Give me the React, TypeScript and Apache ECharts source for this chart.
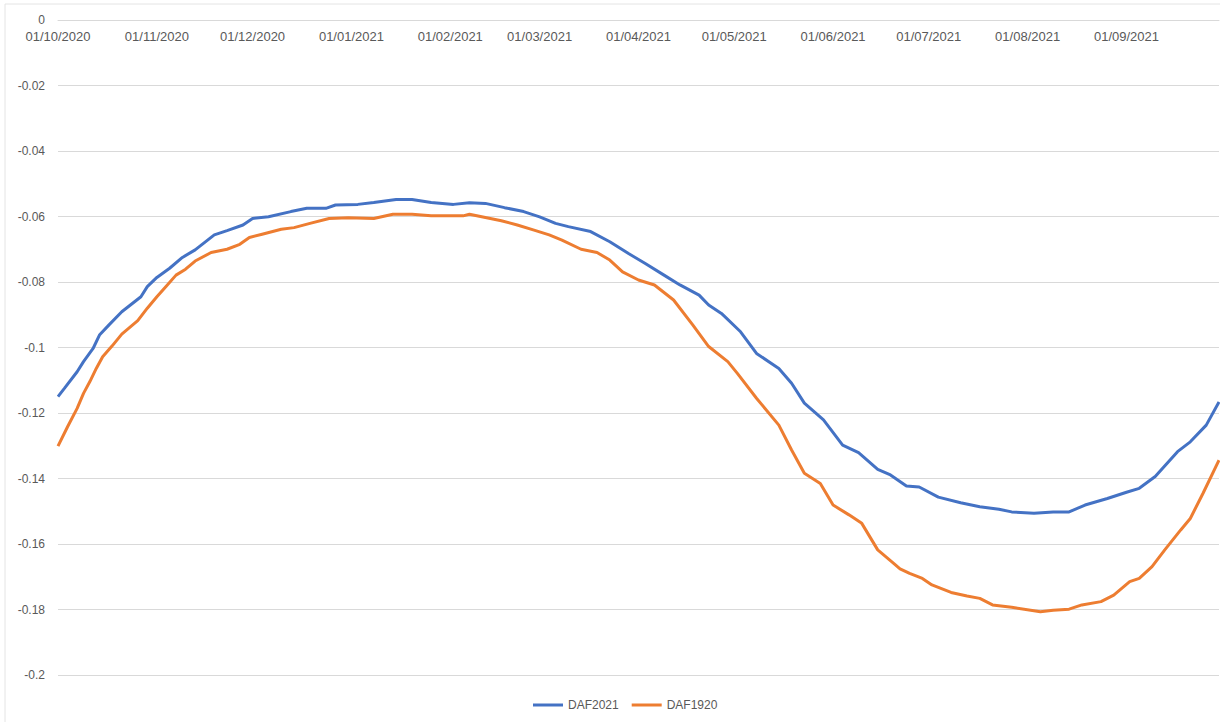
import React, { useEffect, useRef } from "react";
import * as echarts from "echarts";

const monthStarts = [
  "2020-10-01", "2020-11-01", "2020-12-01", "2021-01-01", "2021-02-01", "2021-03-01",
  "2021-04-01", "2021-05-01", "2021-06-01", "2021-07-01", "2021-08-01", "2021-09-01",
];

const daf2021Dates = [
  "2020-10-01", "2020-10-03", "2020-10-07", "2020-10-09", "2020-10-12", "2020-10-14", "2020-10-17", "2020-10-21", "2020-10-27", "2020-10-29",
  "2020-11-01", "2020-11-05", "2020-11-09", "2020-11-13", "2020-11-19", "2020-11-23", "2020-11-28", "2020-12-01", "2020-12-06", "2020-12-13",
  "2020-12-18", "2020-12-24", "2020-12-27", "2021-01-03", "2021-01-08", "2021-01-15", "2021-01-20", "2021-01-26", "2021-02-02", "2021-02-07",
  "2021-02-12", "2021-02-18", "2021-02-24", "2021-03-01", "2021-03-06", "2021-03-10", "2021-03-17", "2021-03-23", "2021-03-29", "2021-04-03",
  "2021-04-09", "2021-04-14", "2021-04-20", "2021-04-23", "2021-04-27", "2021-05-03", "2021-05-08", "2021-05-15", "2021-05-19", "2021-05-23",
  "2021-05-29", "2021-06-04", "2021-06-09", "2021-06-15", "2021-06-19", "2021-06-24", "2021-06-28", "2021-07-04", "2021-07-11", "2021-07-17",
  "2021-07-23", "2021-07-27", "2021-08-03", "2021-08-09", "2021-08-14", "2021-08-19", "2021-08-26", "2021-09-01", "2021-09-05", "2021-09-10",
  "2021-09-17", "2021-09-21", "2021-09-26", "2021-09-30",
];
const daf2021Values = [
  -0.1150, -0.1125, -0.1074, -0.1043, -0.1003, -0.0962, -0.0931, -0.0891, -0.0845, -0.0814,
  -0.0786, -0.0758, -0.0725, -0.0702, -0.0656, -0.0643, -0.0626, -0.0606, -0.0601, -0.0585,
  -0.0575, -0.0575, -0.0565, -0.0563, -0.0557, -0.0548, -0.0548, -0.0557, -0.0563, -0.0558,
  -0.0560, -0.0573, -0.0585, -0.0601, -0.0621, -0.0631, -0.0646, -0.0677, -0.0714, -0.0743,
  -0.0779, -0.0809, -0.0840, -0.0870, -0.0896, -0.0952, -0.1018, -0.1064, -0.1109, -0.1170,
  -0.1221, -0.1298, -0.1321, -0.1372, -0.1389, -0.1423, -0.1426, -0.1457, -0.1474, -0.1486,
  -0.1494, -0.1502, -0.1506, -0.1502, -0.1502, -0.1481, -0.1461, -0.1442, -0.1430, -0.1394,
  -0.1318, -0.1288, -0.1237, -0.1166,
];

const daf1920Dates = [
  "2020-10-01", "2020-10-04", "2020-10-07", "2020-10-09", "2020-10-11", "2020-10-13", "2020-10-15", "2020-10-18", "2020-10-21", "2020-10-26",
  "2020-10-29", "2020-11-01", "2020-11-04", "2020-11-07", "2020-11-10", "2020-11-13", "2020-11-18", "2020-11-23", "2020-11-27", "2020-11-30",
  "2020-12-04", "2020-12-10", "2020-12-14", "2020-12-19", "2020-12-25", "2020-12-31", "2021-01-08", "2021-01-14", "2021-01-20", "2021-01-26",
  "2021-02-05", "2021-02-07", "2021-02-12", "2021-02-17", "2021-02-22", "2021-02-27", "2021-03-04", "2021-03-08", "2021-03-14", "2021-03-19",
  "2021-03-23", "2021-03-27", "2021-04-01", "2021-04-06", "2021-04-12", "2021-04-18", "2021-04-23", "2021-04-29", "2021-05-02", "2021-05-08",
  "2021-05-15", "2021-05-19", "2021-05-23", "2021-05-28", "2021-06-01", "2021-06-06", "2021-06-10", "2021-06-15", "2021-06-20", "2021-06-22",
  "2021-06-25", "2021-06-29", "2021-07-02", "2021-07-08", "2021-07-13", "2021-07-17", "2021-07-21", "2021-07-27", "2021-08-05", "2021-08-09",
  "2021-08-14", "2021-08-18", "2021-08-24", "2021-08-28", "2021-09-02", "2021-09-05", "2021-09-09", "2021-09-13", "2021-09-18", "2021-09-21",
  "2021-09-25", "2021-09-30",
];
const daf1920Values = [
  -0.1301, -0.1242, -0.1186, -0.1140, -0.1104, -0.1064, -0.1028, -0.0995, -0.0959, -0.0918,
  -0.0880, -0.0845, -0.0812, -0.0779, -0.0761, -0.0736, -0.0710, -0.0700, -0.0685, -0.0664,
  -0.0654, -0.0639, -0.0634, -0.0621, -0.0606, -0.0604, -0.0606, -0.0593, -0.0593, -0.0598,
  -0.0598, -0.0593, -0.0603, -0.0613, -0.0626, -0.0641, -0.0656, -0.0672, -0.0700, -0.0710,
  -0.0733, -0.0769, -0.0794, -0.0809, -0.0855, -0.0931, -0.0997, -0.1043, -0.1079, -0.1155,
  -0.1237, -0.1313, -0.1384, -0.1415, -0.1481, -0.1511, -0.1537, -0.1618, -0.1659, -0.1676,
  -0.1690, -0.1705, -0.1725, -0.1748, -0.1759, -0.1766, -0.1786, -0.1793, -0.1807, -0.1802,
  -0.1799, -0.1786, -0.1776, -0.1756, -0.1715, -0.1705, -0.1669, -0.1618, -0.1557, -0.1522,
  -0.1445, -0.1344,
];

const seriesNames = ["DAF2021", "DAF1920"];
const seriesColors = ["#4472C4", "#ED7D31"];

function toTime(s: string): number {
  const [y, m, d] = s.split("-").map(Number);
  return new Date(y, m - 1, d).getTime();
}
function pad(n: number): string {
  return n < 10 ? "0" + n : String(n);
}
function fmtDate(t: number): string {
  const d = new Date(t);
  return pad(d.getDate()) + "/" + pad(d.getMonth() + 1) + "/" + d.getFullYear();
}

export default function App() {
  const ref = useRef<HTMLDivElement>(null);
  useEffect(() => {
    if (!ref.current) return;
    const chart = echarts.init(ref.current, undefined, { renderer: "svg" });
    const font = "'Liberation Sans', Arial, sans-serif";
    const mk = (dates: string[], vals: number[]) => dates.map((d, i) => [toTime(d), vals[i]]);
    chart.setOption({
      animation: false,
      backgroundColor: "#ffffff",
      textStyle: { fontFamily: font },
      graphic: [
        {
          type: "rect",
          shape: { x: 5, y: 4, width: 1230, height: 730 },
          style: { fill: "none", stroke: "#e4e4e4", lineWidth: 1 },
          silent: true,
        },
      ],
      grid: { left: 58, right: 1, top: 20, bottom: 47 },
      legend: {
        bottom: 6,
        left: 528,
        icon: "rect",
        itemWidth: 30,
        itemHeight: 3,
        itemGap: 13,
        textStyle: { color: "#595959", fontSize: 12, fontFamily: font },
        data: seriesNames,
      },
      xAxis: {
        type: "value",
        position: "top",
        min: toTime("2020-10-01"),
        max: toTime("2021-09-30"),
        axisLine: { show: true, onZero: false, lineStyle: { color: "#d9d9d9", width: 1 } },
        axisTick: { show: false },
        splitLine: { show: false },
        axisLabel: {
          inside: true,
          margin: 10,
          color: "#595959",
          fontSize: 13,
          fontFamily: font,
          customValues: monthStarts.map(toTime),
          formatter: (v: number) => fmtDate(v),
          hideOverlap: false,
        },
      },
      yAxis: {
        type: "value",
        min: -0.2,
        max: 0,
        interval: 0.02,
        axisLine: { show: false },
        axisTick: { show: false },
        splitLine: { lineStyle: { color: "#d9d9d9", width: 1 } },
        axisLabel: {
          color: "#595959",
          fontSize: 12,
          fontFamily: font,
          margin: 13,
          formatter: (v: number) => (Math.abs(v) < 1e-9 ? "0" : String(parseFloat(v.toFixed(2)))),
        },
      },
      series: [
        {
          name: seriesNames[0],
          type: "line",
          data: mk(daf2021Dates, daf2021Values),
          showSymbol: false,
          symbol: "none",
          lineStyle: { color: seriesColors[0], width: 3 },
          itemStyle: { color: seriesColors[0] },
        },
        {
          name: seriesNames[1],
          type: "line",
          data: mk(daf1920Dates, daf1920Values),
          showSymbol: false,
          symbol: "none",
          lineStyle: { color: seriesColors[1], width: 3 },
          itemStyle: { color: seriesColors[1] },
        },
      ],
    });
    return () => chart.dispose();
  }, []);
  return (
    <div
      ref={ref}
      style={{ position: "fixed", left: 0, top: 0, width: 1220, height: 722, background: "#fff" }}
    />
  );
}
